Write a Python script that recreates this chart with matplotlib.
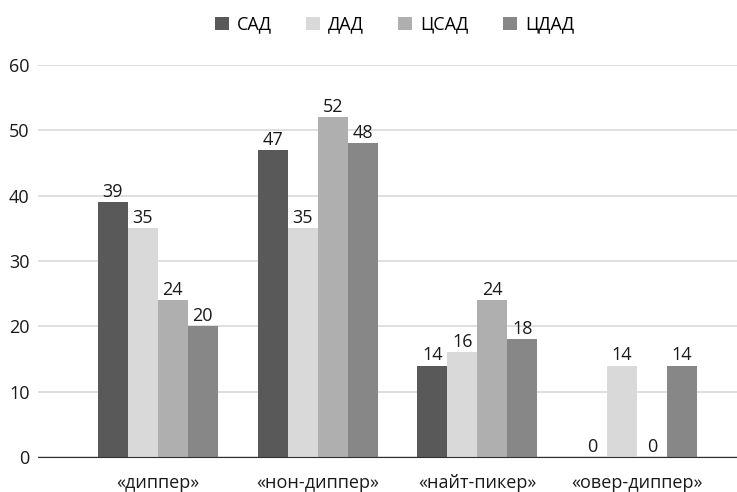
import numpy as np
import matplotlib.pyplot as plt

categories = ["«диппер»", "«нон-диппер»", "«найт-пикер»", "«овер-диппер»"]
series = ["САД", "ДАД", "ЦСАД", "ЦДАД"]
sad = [39, 47, 14, 0]
dad = [35, 35, 16, 14]
csad = [24, 52, 24, 0]
cdad = [20, 48, 18, 14]
colors = ["#595959", "#d9d9d9", "#afafaf", "#878787"]

plt.rcParams['font.family'] = ['Open Sans', 'DejaVu Sans']
fs = 13

fig = plt.figure(figsize=(7.37, 4.92), dpi=100)
ax = fig.add_axes([0.0516, 0.0711, 0.9484, 0.7969])

x = np.arange(len(categories))
w = 0.1875
for i, (name, vals) in enumerate(zip(series, [sad, dad, csad, cdad])):
    pos = x + (i - 1.5) * w
    bars = ax.bar(pos, vals, width=w, color=colors[i], label=name, zorder=3)
    for b, v in zip(bars, vals):
        ax.text(b.get_x() + b.get_width() / 2, v + 0.2, str(v),
                ha='center', va='bottom', fontsize=fs, color='#1a1a1a')

ax.set_xlim(-0.75, 3.625)
ax.set_ylim(0, 60)
ax.set_yticks(range(0, 61, 10))
ax.yaxis.grid(True, color='#d9d9d9', linewidth=1.2, zorder=0)
ax.set_xticks(x)
ax.set_xticklabels(categories)
ax.tick_params(axis='both', length=0, labelsize=fs, colors='#1a1a1a')
ax.tick_params(axis='x', pad=12)
ax.tick_params(axis='y', pad=6)
for s in ['top', 'right', 'left']:
    ax.spines[s].set_visible(False)
ax.spines['bottom'].set_color('#303030')
ax.spines['bottom'].set_zorder(4)

fig.legend(loc='center', bbox_to_anchor=(0.535, 0.95), ncol=4, frameon=False,
           fontsize=fs, handlelength=0.77, handleheight=0.77, handletextpad=0.45,
           columnspacing=1.9)

fig.savefig("out.png", dpi=100)
